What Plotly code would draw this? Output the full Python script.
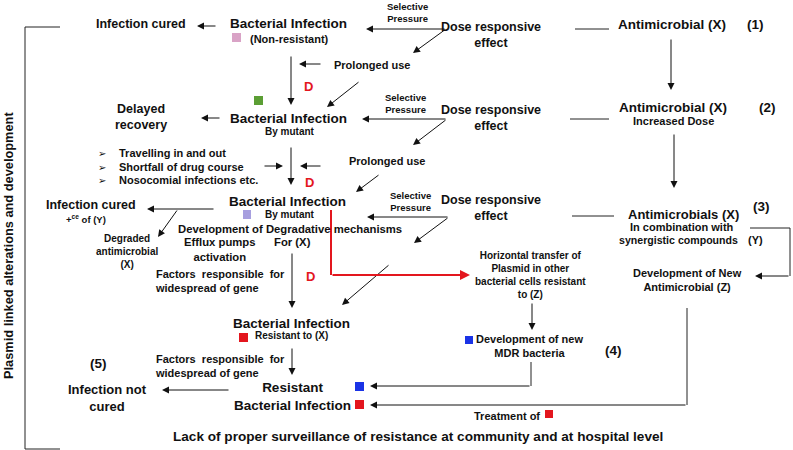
import plotly.graph_objects as go

W, H = 793, 450
FONT = "Liberation Sans, Arial, Helvetica, sans-serif"
INK = "#111111"
RED = "#e3161e"

# ---------------- text content ----------------
labels = [
    "Infection cured", "Bacterial Infection", "(Non-resistant)", "Selective<br>Pressure",
    "Dose responsive<br>effect", "Antimicrobial (X)", "(1)", "Prolonged use", "D",
    "Delayed<br>recovery", "Bacterial Infection", "By mutant", "Selective<br>Pressure",
    "Dose responsive<br>effect", "Antimicrobial (X)", "Increased Dose", "(2)", "Prolonged use",
    "D", "Bacterial Infection", "By mutant", "Selective<br>Pressure", "Dose responsive<br>effect",
    "Antimicrobials (X)", "In combination with", "synergistic compounds", "(Y)", "(3)",
    "Infection cured", "+<sup>ce</sup> of (Y)", "Degraded<br>antimicrobial<br>(X)",
    "Development of Degradative mechanisms", "For (X)", "Efflux pumps<br>activation", "D",
    "Horizontal transfer of<br>Plasmid in other<br>bacterial cells resistant<br>to (Z)",
    "Development of New<br>Antimicrobial (Z)", "Development of new<br>MDR bacteria", "(4)",
    "Bacterial Infection", "Resistant to (X)", "(5)", "Infection not<br>cured",
    "Resistant<br>Bacterial Infection", "Treatment of",
    "Lack of proper surveillance of resistance at community and at hospital level",
]
label_x = [141, 288, 289, 407, 491, 672, 755, 372, 308, 141, 288, 290, 405, 491, 673, 673, 767,
           387, 309, 287, 290, 410, 491, 683, 682, 678, 755, 761, 91, 86, 127, 290, 292, 220,
           310, 530, 687, 529, 613, 291, 291, 98, 107, 292, 507, 418]
label_y = [24, 23, 39, 12, 35, 24, 24, 65, 86, 117, 118, 131, 103, 118, 107, 121, 107, 161,
           182, 201, 214, 201, 208, 214, 227, 240, 240, 206, 205, 219, 251, 229, 242, 249,
           276, 275, 280, 346, 350, 323, 335, 363, 398, 396, 416, 436]
label_size = [12.5, 13.5, 11, 9.5, 12.5, 13.5, 13.5, 11, 13, 12.5, 13.5, 10, 9.5, 12.5, 13.5,
              11, 13.5, 11, 13, 13.5, 10, 9.5, 12.5, 13, 11, 10.6, 11, 13.5, 12.5, 9.5, 10,
              11.3, 11.3, 11.3, 13, 10, 11, 11, 13.5, 13.5, 10, 13.5, 13, 13.5, 11, 13.6]
red_labels = {"D"}

bullet_items = ["Travelling in and out", "Shortfall of drug course", "Nosocomial infections etc."]
bullet_y = [153, 167, 180]

factor_text = "Factors&nbsp; responsible&nbsp; for<br>widespread of gene"
factor_y = [281, 366]

side_text = "Plasmid linked alterations and development"

# coloured markers: (x0, y0, x1, y1, colour)
squares = [
    (232, 33, 241, 42, "#d9a3c6"), (254, 96, 263, 105, "#5b9e34"),
    (243, 210, 251, 219, "#a79fdf"), (239, 333, 248, 342, RED),
    (465, 336, 473, 344, "#1a33e6"), (355, 382, 364, 391, "#1a33e6"),
    (355, 400, 364, 409, RED), (545, 410, 553, 418, RED),
]

# arrows: tail -> head
arrows = [
    (217, 26, 197, 26), (446, 29, 366, 29), (446, 29, 413, 53), (671, 38, 671, 90),
    (322, 64, 299, 64), (291, 55, 291, 105), (360, 81, 327, 107), (221, 118, 201, 118),
    (447, 119, 362, 119), (447, 119, 413, 145), (674, 133, 674, 188), (263, 166, 283, 166),
    (322, 166, 300, 166), (291, 146, 291, 185), (380, 174, 356, 192), (449, 217, 367, 217),
    (449, 217, 414, 243), (215, 209, 147, 209), (178, 209, 158, 237), (292, 252, 292, 308),
    (390, 264, 342, 305), (532, 302, 532, 330), (531, 386, 370, 386), (687, 405, 370, 405),
    (292, 347, 292, 375), (230, 390, 162, 390), (790, 276, 755, 276),
]
red_arrows = [(331, 275, 470, 275)]

# plain lines
lines = [
    (575, 29, 609, 29), (570, 119, 609, 119), (572, 216, 614, 216),
    (25, 27, 60, 27), (25, 27, 25, 449), (25, 449, 60, 449),
    (531, 362, 531, 386), (687, 308, 687, 405), (750, 228, 790, 228), (790, 228, 790, 276),
]
red_lines = [(331, 210, 331, 275)]

# ---------------- build figure ----------------
fig = go.Figure()
annotations = []
shapes = []

for t, x, y, s in zip(labels, label_x, label_y, label_size):
    col = RED if t in red_labels else INK
    annotations.append(dict(x=x, y=y, text=f"<b>{t}</b>", showarrow=False,
                            font=dict(family=FONT, size=s, color=col),
                            xanchor="center", yanchor="middle", align="center"))

for t, y in zip(bullet_items, bullet_y):
    annotations.append(dict(x=96, y=y, text="➢", showarrow=False,
                            font=dict(family="DejaVu Sans", size=10, color=INK),
                            xanchor="left", yanchor="middle"))
    annotations.append(dict(x=117, y=y, text=f"<b>{t}</b>", showarrow=False,
                            font=dict(family=FONT, size=11, color=INK),
                            xanchor="left", yanchor="middle"))

for y in factor_y:
    annotations.append(dict(x=153, y=y, text=f"<b>{factor_text}</b>", showarrow=False,
                            font=dict(family=FONT, size=11, color=INK),
                            xanchor="left", yanchor="middle", align="left"))

annotations.append(dict(x=8, y=246, text=f"<b>{side_text}</b>", showarrow=False,
                        textangle=-90, font=dict(family=FONT, size=12.8, color=INK),
                        xanchor="center", yanchor="middle"))

def add_arrow(a, color, width):
    x0, y0, x1, y1 = a
    annotations.append(dict(x=x1, y=y1, ax=x0, ay=y0, xref="x", yref="y",
                            axref="x", ayref="y", text="", showarrow=True,
                            arrowhead=2, arrowsize=1.4 if width < 1.5 else 1.0,
                            arrowwidth=width, arrowcolor=color, standoff=0))

for a in arrows:
    add_arrow(a, INK, 1)
for a in red_arrows:
    add_arrow(a, RED, 2)

for (x0, y0, x1, y1) in lines:
    shapes.append(dict(type="line", x0=x0, y0=y0, x1=x1, y1=y1,
                       line=dict(color="#222222", width=1)))
for (x0, y0, x1, y1) in red_lines:
    shapes.append(dict(type="line", x0=x0, y0=y0, x1=x1, y1=y1,
                       line=dict(color=RED, width=2)))

for (x0, y0, x1, y1, c) in squares:
    shapes.append(dict(type="rect", x0=x0, y0=y0, x1=x1, y1=y1,
                       fillcolor=c, line=dict(width=0)))

fig.update_layout(
    width=W, height=H, margin=dict(l=0, r=0, t=0, b=0),
    paper_bgcolor="white", plot_bgcolor="white",
    xaxis=dict(range=[0, W], visible=False, fixedrange=True),
    yaxis=dict(range=[H, 0], visible=False, fixedrange=True),
    annotations=annotations, shapes=shapes, showlegend=False,
)

fig.write_html("out.html", config={"displayModeBar": False},
               post_script="document.body.style.margin='0';document.body.style.overflow='hidden';")
